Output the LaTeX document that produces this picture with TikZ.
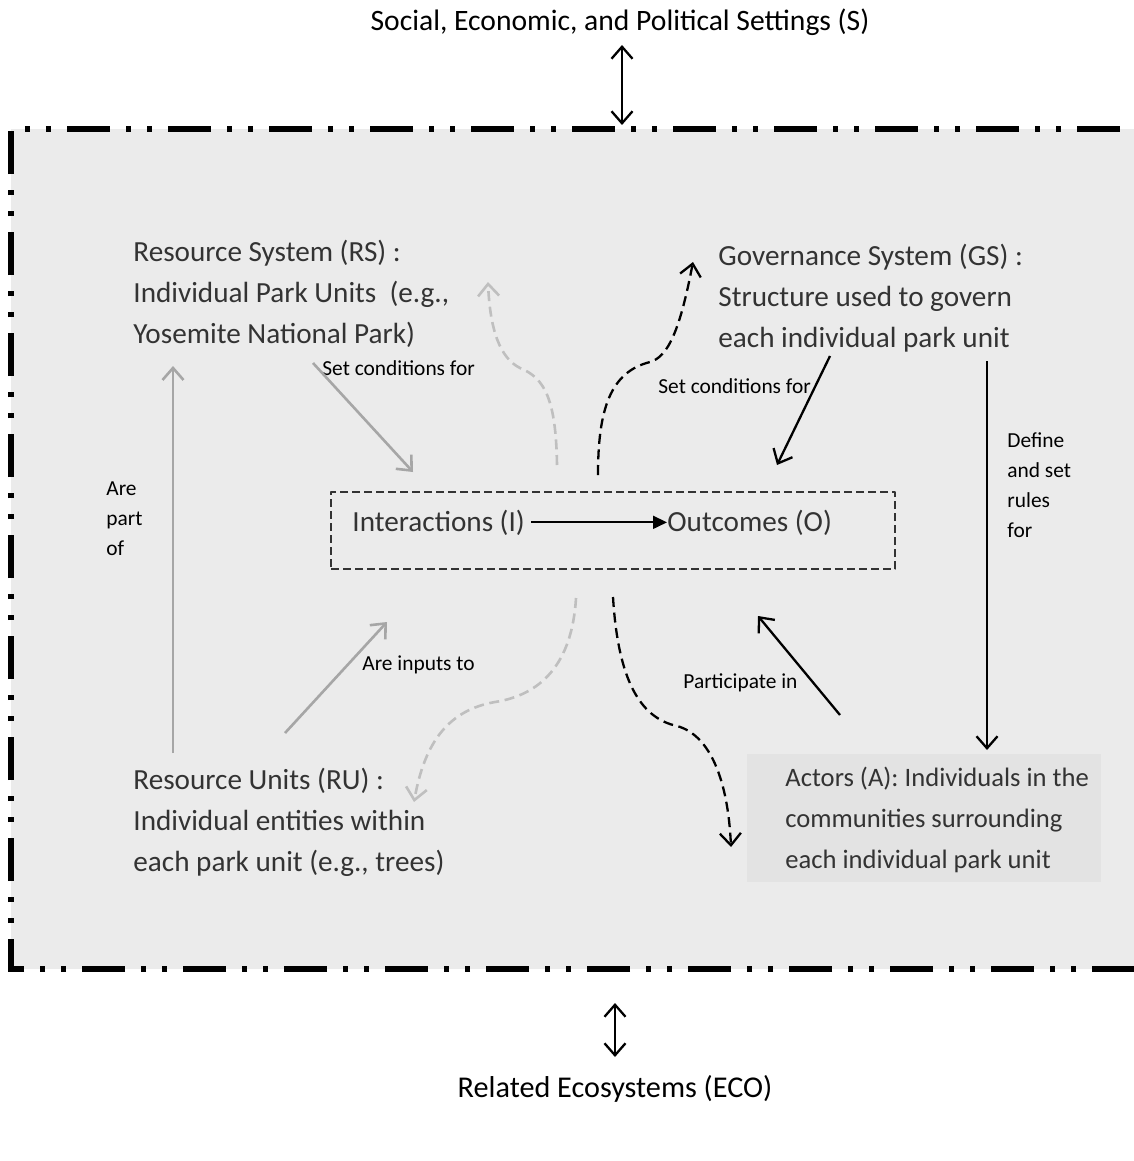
\documentclass[tikz,border=0pt]{standalone}
\usepackage{fontspec}
\setmainfont{Carlito}
\usetikzlibrary{arrows.meta}
\tikzset{
	frame/.style={line width=2.8pt, line join=miter, dash pattern=on 21.5pt off 8pt on 2.5pt off 8pt on 2.5pt off 8pt, dash phase=48pt},
	big/.style={font=\fontsize{14.6}{20.5}\selectfont, text=black!80, inner sep=0pt, align=left, anchor=base west},
	small/.style={font=\fontsize{10.7}{15}\selectfont, inner sep=0pt, align=left, anchor=base west},
	title/.style={font=\fontsize{14.8}{17}\selectfont, inner sep=0pt, anchor=base},
	iobox/.style={draw=black!80, line width=1pt, dash pattern=on 4pt off 2pt, minimum width=282pt, minimum height=38.5pt, inner sep=0pt},
	barb/.style={-{Straight Barb[length=6pt,width=10.5pt]}},
	twobarb/.style={{Straight Barb[length=6pt,width=10.5pt]}-{Straight Barb[length=6pt,width=10.5pt]}},
	grayarr/.style={barb, draw=black!35, line width=1.3pt},
	blackarr/.style={barb, line width=1.15pt},
	graycurve/.style={barb, draw=black!25, line width=1.3pt, dash pattern=on 5pt off 2.8pt},
	blackcurve/.style={barb, line width=1.15pt, dash pattern=on 5pt off 2.8pt}
}
\begin{document}
\begin{tikzpicture}[x=0.5pt, y=-0.5pt, line join=round]
	\useasboundingbox (0,0) rectangle (1134,1161);
	\fill[black!8] (11,129) rectangle (1134,969);
	\fill[black!11] (747,754) rectangle (1101,882);
	\draw[frame] (1140,969) -- (11,969) -- (11,129) -- (1140,129);
	\path 
	(622,45) coordinate (sA)
	(622,125) coordinate (sB)
	(615,1003) coordinate (eA)
	(615,1057) coordinate (eB)
	(173,753) coordinate (partA)
	(173,366) coordinate (partB)
	(313,363) coordinate (rsA)
	(413,472) coordinate (rsB)
	(285,733) coordinate (ruA)
	(387,622) coordinate (ruB)
	(830,356) coordinate (gsA)
	(777,465) coordinate (gsB)
	(987,361) coordinate (ruleA)
	(987,750) coordinate (ruleB)
	(840,715) coordinate (actA)
	(758,616) coordinate (actB);
	\node[title] (set) at (620,31) {Social, Economic, and Political Settings (S)};
	\node[title, font=\fontsize{15.1}{17}\selectfont] (eco) at (615,1097) {Related Ecosystems (ECO)};
	\node[iobox] (io) at (613,530.5) {};
	\node[big] (int) at (352,531) {Interactions (I)};
	\node[big] (out) at (667,531) {Outcomes (O)};
	\node[big] (rs) at (133,343) {Resource System (RS) :\\Individual Park Units\ \ (e.g.,\\Yosemite National Park)};
	\node[big] (gs) at (718,347) {Governance System (GS) :\\Structure used to govern\\each individual park unit};
	\node[big] (ru) at (133,871) {Resource Units (RU) :\\Individual entities within\\each park unit (e.g., trees)};
	\node[big, font=\fontsize{13.3}{20.5}\selectfont] (act) at (785,868) {Actors (A): Individuals in the\\communities surrounding\\each individual park unit};
	\node[small] (lrs) at (322,375) {Set conditions for};
	\node[small] (lgs) at (658,393) {Set conditions for};
	\node[small] (lpart) at (106,555) {Are\\part\\of};
	\node[small] (lru) at (362,670) {Are inputs to};
	\node[small] (lrule) at (1007,537) {Define\\and set\\rules\\for};
	\node[small] (lact) at (683,688) {Participate in};
	\draw[twobarb, line width=1.15pt] (sA) -- (sB);
	\draw[twobarb, line width=1.15pt] (eA) -- (eB);
	\draw[-{Triangle[length=7pt,width=6.5pt]}, line width=0.9pt] ([xshift=3pt]int.east) -- (out.west);
	\draw[grayarr] (partA) -- (partB);
	\draw[grayarr] (rsA) -- (rsB);
	\draw[grayarr] (ruA) -- (ruB);
	\draw[blackarr] (gsA) -- (gsB);
	\draw[blackarr] (ruleA) -- (ruleB);
	\draw[blackarr] (actA) -- (actB);
	\draw[graycurve] (557,465) .. controls (556,400) and (545,378) .. (520,368) .. controls (500,358) and (490,330) .. (488,282);
	\draw[blackcurve] (598,475) .. controls (598,410) and (610,372) .. (650,362) .. controls (668,357) and (680,330) .. (693,262);
	\draw[graycurve] (576,598) .. controls (572,665) and (540,695) .. (495,702) .. controls (450,710) and (425,740) .. (414,802);
	\draw[blackcurve] (613,597) .. controls (618,680) and (640,718) .. (677,726) .. controls (710,735) and (728,780) .. (731,847);
\end{tikzpicture}
\end{document}
